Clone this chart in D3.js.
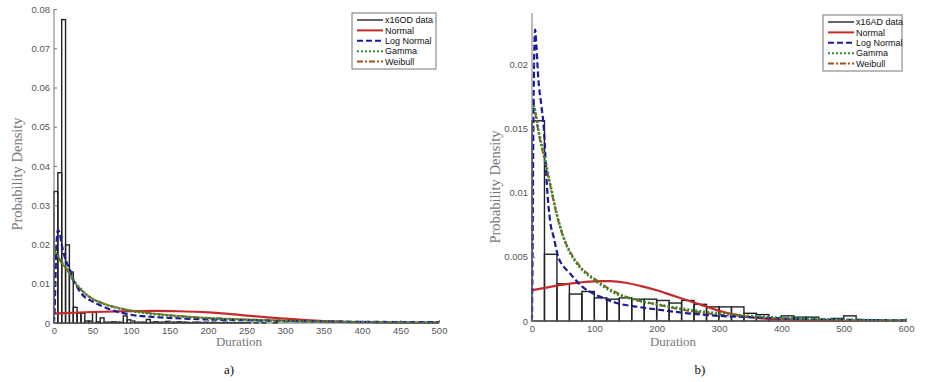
<!DOCTYPE html>
<html>
<head>
<meta charset="utf-8">
<title>Duration fits</title>
<script src="https://d3js.org/d3.v7.min.js"></script>
<style>
  body { margin: 0; background: #fff; }
  .tick text { font-family: "Liberation Sans", Arial, sans-serif; font-size: 9.5px; fill: #555; }
  .tick line { stroke: #777; }
  .domain { stroke: #777; }
</style>
</head>
<body>
<svg width="926" height="382"></svg>
<script>
// ---- data ----
const seriesNames = ["Normal", "Log Normal", "Gamma", "Weibull"];

// panel a) x16OD, bins of 5
const leftBinWidth = 5;
const leftHist = [
  0.0335, 0.0383, 0.0773, 0.0199, 0.0130, 0.0040, 0.0025, 0.0025, 0.0005, 0.0005,
  0.0027, 0.0003, 0.0013, 0.0002, 0.0002, 0.0003, 0.0002, 0.0002, 0.0018, 0.0008,
  0.0005, 0.0002, 0.0002, 0.0002, 0.0009, 0.0002, 0.0003, 0.0002, 0.0002, 0.0004,
  0.0002, 0.0002, 0.0003, 0.0002, 0.0002, 0.0001, 0.0002, 0.0002, 0.0001, 0.0002,
  0.0001, 0.0002, 0.0001, 0.0001, 0.0002, 0.0001, 0.0001, 0.0001, 0.0001, 0.0001,
  0.0001, 0, 0.0001, 0, 0.0001, 0, 0, 0.0001, 0, 0,
  0, 0, 0, 0, 0, 0, 0, 0, 0, 0,
  0, 0, 0, 0, 0, 0, 0, 0, 0, 0,
  0, 0, 0, 0, 0, 0, 0, 0, 0, 0,
  0, 0, 0, 0, 0, 0, 0, 0, 0, 0
];
const leftNormal = [[0,0.0024],[50,0.0028],[100,0.00302],[130,0.00310],[160,0.00300],[200,0.0027],[250,0.0019],[300,0.0011],[350,0.0005],[400,0.0002],[450,0.00007],[500,0.00002]];
const leftLogNormal = [[0,0],[1,0.004],[2,0.012],[3,0.019],[5,0.0237],[7,0.0232],[10,0.020],[14,0.0168],[17,0.0152],[21,0.0135],[25,0.011],[30,0.0092],[34,0.0079],[40,0.0066],[50,0.0055],[60,0.0045],[75,0.0033],[90,0.0025],[100,0.0021],[125,0.0016],[150,0.0013],[200,0.0009],[250,0.0007],[300,0.0005],[400,0.0003],[500,0.0002]];
const leftGamma = [[0.5,0.0190],[2,0.0178],[5,0.0172],[10,0.0155],[17,0.0138],[25,0.0110],[34,0.0088],[45,0.0068],[60,0.0052],[75,0.0042],[100,0.0031],[125,0.0024],[150,0.0019],[200,0.0012],[250,0.0008],[300,0.0005],[350,0.0003],[400,0.0002],[450,0.0001],[500,0.00005]];
const leftWeibull = [[0.5,0.0195],[2,0.0180],[5,0.0170],[10,0.0152],[17,0.0135],[25,0.0108],[34,0.0087],[45,0.0068],[60,0.0053],[75,0.0043],[100,0.0032],[125,0.0025],[150,0.0020],[200,0.0013],[250,0.0009],[300,0.0006],[350,0.0004],[400,0.0002],[450,0.0001],[500,0.0001]];
const leftXTicks = [0, 50, 100, 150, 200, 250, 300, 350, 400, 450, 500];
const leftYTicks = [0, 0.01, 0.02, 0.03, 0.04, 0.05, 0.06, 0.07, 0.08];

// panel b) x16AD, bins of 20
const rightBinWidth = 20;
const rightHist = [
  0.0156, 0.0052, 0.0029, 0.0021, 0.0023, 0.0018, 0.0017, 0.0018, 0.0017, 0.0017,
  0.0016, 0.0014, 0.0016, 0.0013, 0.0011, 0.0011, 0.0011, 0.0006, 0.0005, 0.0002,
  0.0004, 0.0003, 0.0003, 0.0001, 0.0002, 0.0004, 0.0001, 0.0001, 0.00005, 0.00005
];
const rightNormal = [[0,0.0024],[25,0.00262],[50,0.00283],[75,0.00299],[100,0.00308],[112,0.00311],[125,0.00310],[150,0.00298],[175,0.00272],[200,0.0024],[225,0.0020],[250,0.0016],[275,0.0012],[300,0.0008],[325,0.0005],[350,0.0003],[400,0.0001],[450,0.00003],[600,0]];
const rightLogNormal = [[0,0],[1,0.006],[2,0.014],[3,0.019],[5,0.0227],[7,0.0215],[10,0.019],[15,0.0168],[19,0.015],[24,0.0105],[29,0.0078],[35,0.0065],[42,0.0050],[50,0.0043],[61,0.0037],[80,0.0027],[100,0.0021],[114,0.0018],[136,0.0014],[170,0.0011],[200,0.0009],[250,0.0006],[300,0.0004],[350,0.0003],[400,0.0002],[500,0.0001],[600,0.00005]];
const rightGamma = [[2,0.0168],[5,0.0164],[10,0.0150],[20,0.0128],[30,0.0105],[40,0.0083],[50,0.0066],[60,0.0054],[70,0.0046],[80,0.0040],[100,0.0032],[136,0.0021],[170,0.0016],[200,0.0013],[250,0.0009],[300,0.0006],[350,0.0004],[400,0.00025],[450,0.00015],[500,0.0001],[600,0.00003]];
const rightWeibull = [[2,0.0172],[5,0.0163],[10,0.0148],[20,0.0126],[30,0.0104],[40,0.0082],[50,0.0066],[60,0.0055],[70,0.0047],[80,0.0041],[100,0.0033],[136,0.0022],[170,0.0016],[200,0.0013],[250,0.0008],[300,0.0005],[350,0.0003],[400,0.0002],[450,0.0001],[500,0.00006],[600,0.00002]];
const rightXTicks = [0, 100, 200, 300, 400, 500, 600];
const rightYTicks = [0, 0.005, 0.01, 0.015, 0.02];

// ---- styles ----
const styles = {
  "Normal":     { color: "#c62b2b", width: 2.2, dash: null },
  "Log Normal": { color: "#1a1a9e", width: 2.2, dash: "6,3" },
  "Gamma":      { color: "#2f8f2f", width: 2.6, dash: "2,2" },
  "Weibull":    { color: "#a0521f", width: 2.0, dash: "6,2,2,2" }
};

const svg = d3.select("svg");

function panel(cfg) {
  const x = d3.scaleLinear().domain(cfg.xDomain).range([cfg.x0, cfg.x1]);
  const y = d3.scaleLinear().domain(cfg.yDomain).range([cfg.y0, cfg.y1]);
  const g = svg.append("g");

  // histogram (outline bars)
  g.selectAll("rect.bar")
    .data(cfg.hist)
    .enter().append("rect")
    .attr("class", "bar")
    .attr("x", (d, i) => x(i * cfg.binWidth))
    .attr("width", (d, i) => x((i + 1) * cfg.binWidth) - x(i * cfg.binWidth))
    .attr("y", d => y(d))
    .attr("height", d => y(0) - y(d))
    .attr("fill", "none")
    .attr("stroke", "#222")
    .attr("stroke-width", 1.4);

  const line = d3.line().x(d => x(d[0])).y(d => y(d[1])).curve(d3.curveMonotoneX);

  // draw order: normal, weibull, lognormal, gamma
  const order = ["Normal", "Weibull", "Log Normal", "Gamma"];
  order.forEach(name => {
    const s = styles[name];
    g.append("path")
      .datum(cfg.curves[name])
      .attr("d", line)
      .attr("fill", "none")
      .attr("stroke", s.color)
      .attr("stroke-width", s.width)
      .attr("stroke-dasharray", s.dash);
  });

  // axes
  g.append("g")
    .attr("transform", `translate(0,${cfg.y0})`)
    .call(d3.axisBottom(x).tickValues(cfg.xTicks).tickSize(-3).tickPadding(4).tickFormat(d3.format("d")));
  g.append("g")
    .attr("transform", `translate(${cfg.x0},0)`)
    .call(d3.axisLeft(y).tickValues(cfg.yTicks).tickSize(-3).tickPadding(4).tickFormat(d => d === 0 ? "0" : String(+d.toFixed(3))));
  g.selectAll(".domain").attr("d", null);
  g.append("line").attr("x1", cfg.x0).attr("x2", cfg.x1).attr("y1", cfg.y0).attr("y2", cfg.y0).attr("stroke", "#666");
  g.append("line").attr("x1", cfg.x0).attr("x2", cfg.x0).attr("y1", cfg.y0).attr("y2", cfg.y1).attr("stroke", "#777");

  // axis labels
  g.append("text")
    .attr("transform", `translate(${cfg.yLabel[0]},${cfg.yLabel[1]}) rotate(-90)`)
    .attr("text-anchor", "middle")
    .attr("font-family", "Liberation Serif, Times New Roman, serif")
    .attr("font-size", 14.5).attr("fill", "#777")
    .text("Probability Density");
  g.append("text")
    .attr("x", cfg.xLabel[0]).attr("y", cfg.xLabel[1])
    .attr("text-anchor", "middle")
    .attr("font-family", "Liberation Serif, Times New Roman, serif")
    .attr("font-size", 13).attr("fill", "#777")
    .text("Duration");
  g.append("text")
    .attr("x", cfg.tag[0]).attr("y", cfg.tag[1])
    .attr("text-anchor", "middle")
    .attr("font-family", "Liberation Serif, Times New Roman, serif")
    .attr("font-size", 13).attr("fill", "#111")
    .text(cfg.tagText);

  // legend
  const L = cfg.legend;
  const lg = g.append("g").attr("transform", `translate(${L.x},${L.y})`);
  lg.append("rect").attr("width", L.w).attr("height", L.h)
    .attr("fill", "#fff").attr("stroke", "#777").attr("stroke-width", 1);
  const items = [cfg.dataName].concat(seriesNames);
  items.forEach((name, i) => {
    const s = i === 0 ? { color: "#222", width: 1.4, dash: null } : styles[name];
    const yy = 7 + i * 10.4;
    lg.append("line").attr("x1", 5).attr("x2", 31).attr("y1", yy).attr("y2", yy)
      .attr("stroke", s.color).attr("stroke-width", Math.min(s.width, 2))
      .attr("stroke-dasharray", s.dash);
    lg.append("text").attr("x", 33).attr("y", yy).attr("dy", "0.35em")
      .attr("font-family", "Liberation Sans, Arial, sans-serif")
      .attr("font-size", 9).attr("fill", "#111")
      .text(name);
  });
}

panel({
  x0: 54, x1: 439, y0: 323, y1: 9,
  xDomain: [0, 500], yDomain: [0, 0.08],
  xTicks: leftXTicks, yTicks: leftYTicks,
  hist: leftHist, binWidth: leftBinWidth,
  curves: { "Normal": leftNormal, "Log Normal": leftLogNormal, "Gamma": leftGamma, "Weibull": leftWeibull },
  yLabel: [22, 174], xLabel: [239, 346], tag: [229, 374], tagText: "a)",
  dataName: "x16OD data",
  legend: { x: 352, y: 13, w: 84, h: 56 }
});

panel({
  x0: 532, x1: 906, y0: 321, y1: 13,
  xDomain: [0, 600], yDomain: [0, 0.024],
  xTicks: rightXTicks, yTicks: rightYTicks,
  hist: rightHist, binWidth: rightBinWidth,
  curves: { "Normal": rightNormal, "Log Normal": rightLogNormal, "Gamma": rightGamma, "Weibull": rightWeibull },
  yLabel: [500, 187], xLabel: [673, 346], tag: [700, 374], tagText: "b)",
  dataName: "x16AD data",
  legend: { x: 823, y: 15, w: 79, h: 56 }
});
</script>
</body>
</html>
